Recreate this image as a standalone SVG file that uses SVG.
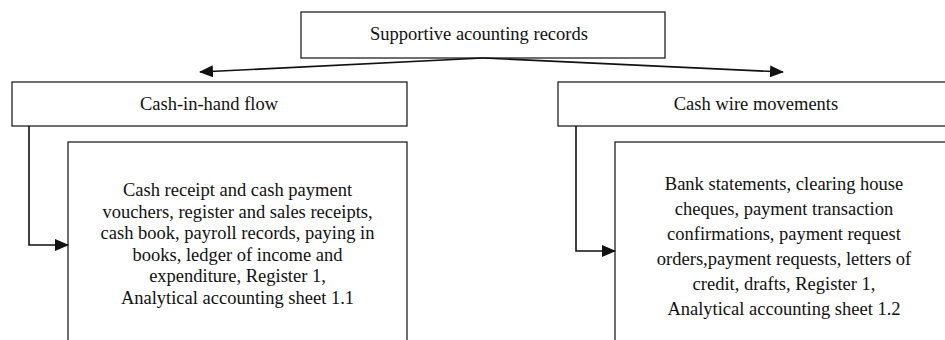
<svg xmlns="http://www.w3.org/2000/svg" width="945" height="340" viewBox="0 0 945 340">
<defs>
<style>
.box{fill:#fff;stroke:#222;stroke-width:1.3}
.t{font-family:"Liberation Serif","Times New Roman",serif;font-size:18.5px;fill:#111;text-anchor:middle}
.c{fill:none;stroke:#111;stroke-width:1.6}
</style>
<marker id="ah" markerWidth="14" markerHeight="12" refX="13" refY="6" orient="auto" markerUnits="userSpaceOnUse">
<path d="M0,0 L14,6 L0,12 Z" fill="#111"/>
</marker>
</defs>
<rect width="945" height="340" fill="#fff"/>
<g id="top">
<rect class="box" x="301" y="12" width="364" height="46"/>
<text class="t" x="479" y="40">Supportive acounting records</text>
</g>
<g id="cashhand">
<rect class="box" x="12" y="82" width="395" height="44"/>
<text class="t" x="209" y="110">Cash-in-hand flow</text>
</g>
<g id="cashwire">
<rect class="box" x="558" y="82" width="400" height="44"/>
<text class="t" x="756" y="110">Cash wire movements</text>
</g>
<g id="handlist">
<rect class="box" x="68" y="142" width="339" height="210"/>
<text class="t" x="237.5" y="196">Cash receipt and cash payment</text>
<text class="t" x="237.5" y="217.5">vouchers, register and sales receipts,</text>
<text class="t" x="237.5" y="239">cash book, payroll records, paying in</text>
<text class="t" x="237.5" y="260.5">books, ledger of income and</text>
<text class="t" x="237.5" y="282">expenditure, Register 1,</text>
<text class="t" x="237.5" y="303.5">Analytical accounting sheet 1.1</text>
</g>
<g id="wirelist">
<rect class="box" x="615" y="142" width="350" height="210"/>
<text class="t" x="784" y="190">Bank statements, clearing house</text>
<text class="t" x="784" y="215">cheques, payment transaction</text>
<text class="t" x="784" y="240">confirmations, payment request</text>
<text class="t" x="784" y="265">orders,payment requests, letters of</text>
<text class="t" x="784" y="290">credit, drafts, Register 1,</text>
<text class="t" x="784" y="315">Analytical accounting sheet 1.2</text>
</g>
<g id="connectors">
<path class="c" d="M483,58 L200,72" marker-end="url(#ah)"/>
<path class="c" d="M483,58 L783,72" marker-end="url(#ah)"/>
<path class="c" d="M29,126 V245 H68" marker-end="url(#ah)"/>
<path class="c" d="M576,126 V251 H615" marker-end="url(#ah)"/>
</g>
</svg>
